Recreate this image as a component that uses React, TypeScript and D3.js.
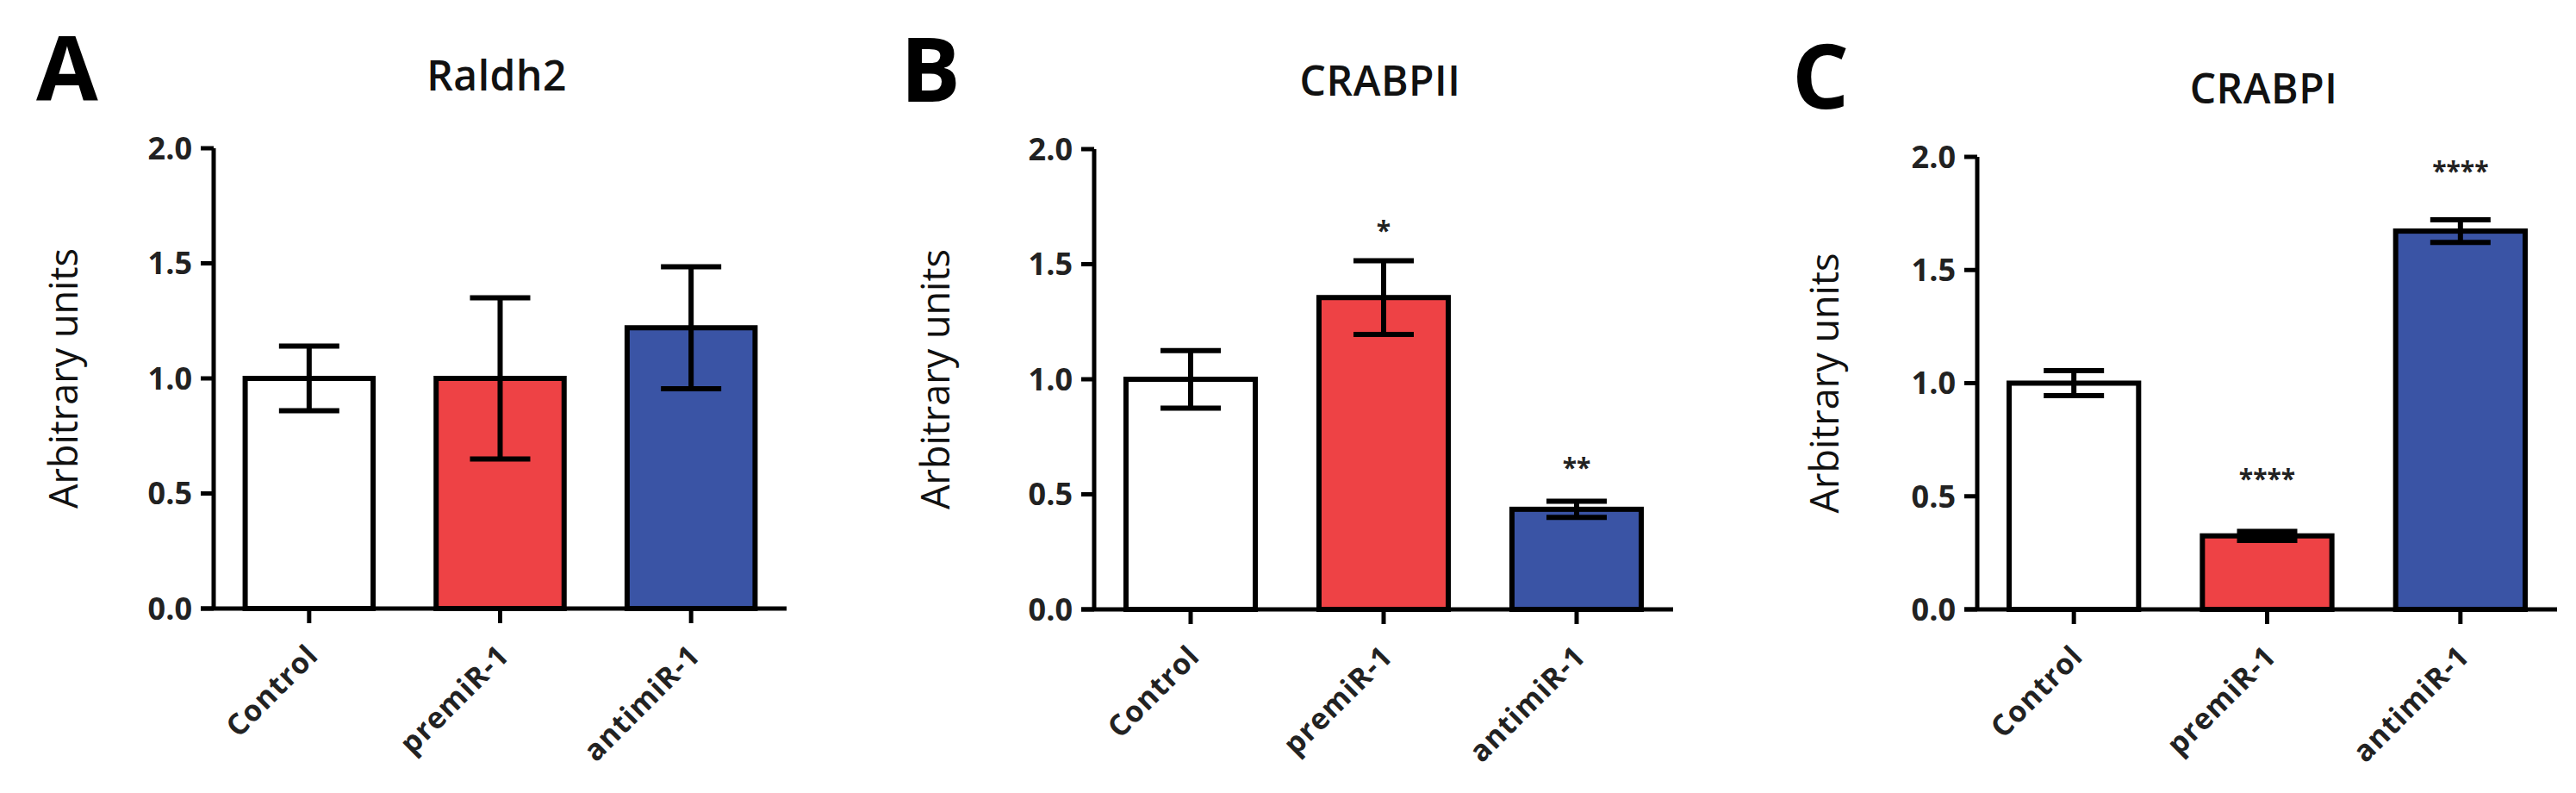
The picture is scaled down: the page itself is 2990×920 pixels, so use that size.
import React from "react";
import * as d3 from "d3";

// ---- data ----
const categories = ["Control", "premiR-1", "antimiR-1"];
const barColors = ["#ffffff", "#ee4245", "#3a54a5"];
const yTicks = [0, 0.5, 1.0, 1.5, 2.0];

const panelLetters = ["A", "B", "C"];
const panelTitles = ["Raldh2", "CRABPII", "CRABPI"];

const raldh2Means = [1.0, 1.0, 1.22];
const raldh2Sem = [0.14, 0.35, 0.265];
const raldh2Stars = ["", "", ""];
const raldh2StarY = [0, 0, 0];

const crabp2Means = [1.0, 1.355, 0.435];
const crabp2Sem = [0.125, 0.16, 0.035];
const crabp2Stars = ["", "*", "**"];
const crabp2StarY = [0, 1.67, 0.64];

const crabp1Means = [1.0, 0.325, 1.672];
const crabp1Sem = [0.055, 0.02, 0.05];
const crabp1Stars = ["", "****", "****"];
const crabp1StarY = [0, 0.6, 1.96];

const yLabel = "Arbitrary units";

// ---- layout (positions only) ----
const layouts = [
  { axisX: 248, top: 172, bottom: 706, right: 913, letterX: 42, letterY: 117, titleY: 105, ylabX: 74 },
  { axisX: 1270, top: 173, bottom: 707, right: 1942, letterX: 1045, letterY: 118, titleY: 111, ylabX: 1086 },
  { axisX: 2295, top: 182, bottom: 707, right: 2968, letterX: 2080, letterY: 126, titleY: 120, ylabX: 2118 },
];

const FONT = "'Open Sans', 'Liberation Sans', Arial, sans-serif";

type PanelProps = {
  idx: number;
  means: number[];
  sem: number[];
  stars: string[];
  starY: number[];
};

function Panel({ idx, means, sem, stars, starY }: PanelProps) {
  const L = layouts[idx];
  const y = d3.scaleLinear().domain([0, 2]).range([L.bottom, L.top]);
  const x = d3
    .scaleBand<string>()
    .domain(categories)
    .range([L.axisX, L.right])
    .paddingInner(0.33)
    .paddingOuter(0.165);
  const bw = x.bandwidth();
  const capW = 70;
  const tickLen = 15;
  const cx = (L.axisX + L.right) / 2;
  const lw = 5;

  return (
    <g>
      <text
        x={L.letterX}
        y={L.letterY}
        fontFamily={FONT}
        fontWeight={700}
        fontSize={104}
        fill="#000"
      >
        {panelLetters[idx]}
      </text>
      <text
        x={cx - 4}
        y={L.titleY}
        textAnchor="middle"
        fontFamily={FONT}
        fontWeight={600}
        fontSize={48}
        letterSpacing={0.5}
        fill="#111"
      >
        {panelTitles[idx]}
      </text>
      <text
        transform={`translate(${L.ylabX + 16},${(L.top + L.bottom) / 2}) rotate(-90)`}
        textAnchor="middle"
        fontFamily={FONT}
        fontWeight={500}
        fontSize={45}
        fill="#111"
      >
        {yLabel}
      </text>

      {/* bars */}
      {categories.map((c, i) => (
        <rect
          key={c}
          x={x(c)!}
          y={y(means[i])}
          width={bw}
          height={y(0) - y(means[i])}
          fill={barColors[i]}
          stroke="#000"
          strokeWidth={6}
        />
      ))}

      {/* error bars */}
      {categories.map((c, i) => {
        const mx = x(c)! + bw / 2;
        const hi = y(means[i] + sem[i]);
        const lo = y(means[i] - sem[i]);
        return (
          <g key={c + "e"} stroke="#000" strokeWidth={6}>
            <line x1={mx} x2={mx} y1={hi} y2={lo} />
            <line x1={mx - capW / 2} x2={mx + capW / 2} y1={hi} y2={hi} />
            <line x1={mx - capW / 2} x2={mx + capW / 2} y1={lo} y2={lo} />
          </g>
        );
      })}

      {/* stars */}
      {categories.map((c, i) =>
        stars[i] ? (
          <text
            key={c + "s"}
            x={x(c)! + bw / 2}
            y={y(starY[i])}
            dy="0.55em"
            textAnchor="middle"
            fontFamily={FONT}
            fontWeight={700}
            fontSize={30}
            fill="#222"
          >
            {stars[i]}
          </text>
        ) : null
      )}

      {/* y axis */}
      <line x1={L.axisX} x2={L.axisX} y1={y(2)} y2={y(0)} stroke="#000" strokeWidth={lw} />
      {yTicks.map((t) => (
        <g key={t}>
          <line
            x1={L.axisX - tickLen}
            x2={L.axisX}
            y1={y(t)}
            y2={y(t)}
            stroke="#000"
            strokeWidth={lw}
          />
          <text
            x={L.axisX - 25}
            y={y(t)}
            dy="0.36em"
            textAnchor="end"
            fontFamily={FONT}
            fontWeight={700}
            fontSize={36}
            fill="#222"
          >
            {t.toFixed(1)}
          </text>
        </g>
      ))}

      {/* x axis */}
      <line
        x1={L.axisX - tickLen}
        x2={L.right}
        y1={y(0)}
        y2={y(0)}
        stroke="#000"
        strokeWidth={lw}
      />
      {categories.map((c) => {
        const mx = x(c)! + bw / 2;
        return (
          <g key={c + "x"}>
            <line x1={mx} x2={mx} y1={y(0)} y2={y(0) + 17} stroke="#000" strokeWidth={lw} />
            <text
              transform={`translate(${mx + 4},${y(0) + 48}) rotate(-45)`}
              textAnchor="end"
              dy="0.35em"
              fontFamily={FONT}
              fontWeight={700}
              fontSize={34}
              letterSpacing={1}
              fill="#222"
            >
              {c}
            </text>
          </g>
        );
      })}
    </g>
  );
}

export default function App() {
  return (
    <svg
      width={2990}
      height={920}
      viewBox="0 0 2990 920"
      style={{ position: "absolute", left: 0, top: 0, background: "#fff" }}
    >
      <rect x={0} y={0} width={2990} height={920} fill="#fff" />
      <Panel idx={0} means={raldh2Means} sem={raldh2Sem} stars={raldh2Stars} starY={raldh2StarY} />
      <Panel idx={1} means={crabp2Means} sem={crabp2Sem} stars={crabp2Stars} starY={crabp2StarY} />
      <Panel idx={2} means={crabp1Means} sem={crabp1Sem} stars={crabp1Stars} starY={crabp1StarY} />
    </svg>
  );
}
